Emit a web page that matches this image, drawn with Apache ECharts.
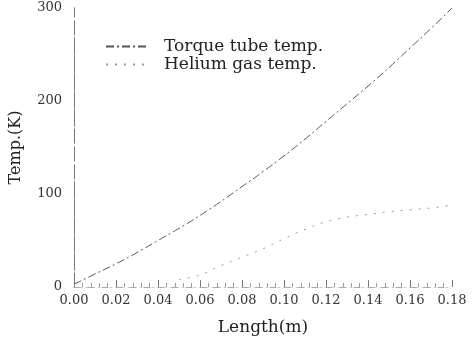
<!DOCTYPE html>
<html>
<head>
<meta charset="utf-8">
<script src="https://cdn.jsdelivr.net/npm/echarts@6/dist/echarts.min.js"></script>
<style>
  html, body { margin: 0; padding: 0; background: #fff; }
  #chart { width: 474px; height: 343px; }
</style>
</head>
<body>
<div id="chart"></div>
<script>
const lengths = [0.00, 0.01, 0.02, 0.03, 0.04, 0.05, 0.06, 0.07, 0.08, 0.09, 0.10, 0.11, 0.12, 0.13, 0.14, 0.15, 0.16, 0.17, 0.18];
const torqueTube = [3, 14, 25, 37, 50, 63, 77, 92, 108, 124, 141, 159, 178, 197, 216, 236, 257, 278, 300];
const heliumGasLengths = [0.05, 0.06, 0.07, 0.08, 0.09, 0.10, 0.11, 0.12, 0.13, 0.14, 0.15, 0.16, 0.17, 0.18];
const heliumGas = [8, 13, 23, 32, 41, 52, 62, 70, 75, 78, 81, 83, 85, 88];
const seriesNames = ["Torque tube temp.", "Helium gas temp."];

const serif = "'DejaVu Serif', 'Liberation Serif', serif";
const chart = echarts.init(document.getElementById("chart"));

chart.setOption({
  animation: false,
  grid: { left: 74, right: 22, top: 8, bottom: 56 },
  legend: {
    orient: "vertical",
    left: 100,
    top: 33,
    itemWidth: 40,
    itemHeight: 10,
    itemGap: 1,
    itemStyle: { opacity: 0 },
    textStyle: { fontFamily: serif, fontSize: 17, lineHeight: 16, color: "#222", padding: [0, 0, 0, 13] },
    data: seriesNames
  },
  xAxis: [
    {
      type: "value",
      min: 0,
      max: 0.18,
      interval: 0.02,
      name: "Length(m)",
      nameLocation: "middle",
      nameGap: 32,
      nameTextStyle: { fontFamily: serif, fontSize: 17, color: "#222" },
      axisLabel: {
        fontFamily: serif, fontSize: 13, color: "#333", margin: 7,
        formatter: (v) => v.toFixed(2)
      },
      axisLine: { show: true, lineStyle: { color: "#ccc", width: 1, type: [2, 4] } },
      axisTick: { show: true, inside: true, length: 7, lineStyle: { color: "#777" } },
      minorTick: { show: true, splitNumber: 5, length: 4, lineStyle: { color: "#999" } },
      splitLine: { show: false }
    },
    {
      type: "value",
      position: "top",
      min: 0,
      max: 0.18,
      axisLabel: { show: false },
      axisTick: { show: false },
      axisLine: { show: true, lineStyle: { color: "#aaa", width: 1, type: [6, 8] } },
      splitLine: { show: false }
    }
  ],
  yAxis: [
    {
      type: "value",
      min: 0,
      max: 300,
      interval: 100,
      name: "Temp.(K)",
      nameLocation: "middle",
      nameGap: 50,
      nameTextStyle: { fontFamily: serif, fontSize: 16, color: "#222" },
      axisLabel: { fontFamily: serif, fontSize: 13, color: "#333", margin: 12 },
      axisLine: { show: true, lineStyle: { color: "#999", width: 1, type: [10, 6] } },
      axisTick: { show: false },
      splitLine: { show: false }
    },
    {
      type: "value",
      position: "right",
      min: 0,
      max: 300,
      axisLabel: { show: false },
      axisTick: { show: false },
      axisLine: { show: true, lineStyle: { color: "#777", width: 1, type: [14, 4] } },
      splitLine: { show: false }
    }
  ],
  series: [
    {
      name: seriesNames[0],
      type: "line",
      smooth: true,
      symbol: "none",
      color: "#555",
      lineStyle: { width: 1, color: "#555", type: [8, 3, 2, 3] },
      data: lengths.map((x, i) => [x, torqueTube[i]])
    },
    {
      name: seriesNames[1],
      type: "line",
      smooth: true,
      symbol: "none",
      color: "#999",
      lineStyle: { width: 1, color: "#999", type: [2, 7] },
      data: heliumGasLengths.map((x, i) => [x, heliumGas[i]])
    }
  ]
});
</script>
</body>
</html>
